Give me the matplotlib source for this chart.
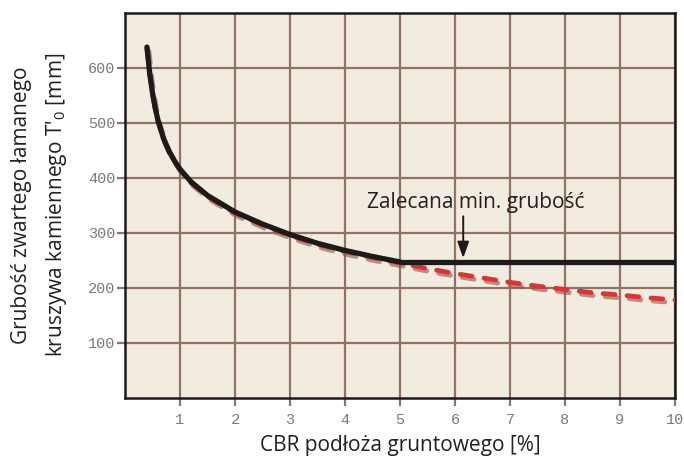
import matplotlib
matplotlib.use("Agg")
import matplotlib.pyplot as plt
import matplotlib.patheffects as pe

# ---- data ----
cbr_curve = [0.4, 0.45, 0.5, 0.55, 0.6, 0.7, 0.8, 0.9, 1.0, 1.2, 1.5, 2.0, 2.5, 3.0, 3.5, 4.0, 4.5, 5.0]
thk_curve = [638, 590, 555, 527, 505, 472, 449, 431, 416, 393, 368, 338, 316, 297, 281, 268, 257, 247]
cbr_flat = [5.0, 10.0]
thk_flat = [247, 247]
cbr_dash = cbr_curve + [5.5, 6.0, 6.5, 7.0, 7.5, 8.0, 8.5, 9.0, 9.5, 10.0]
thk_dash = [v - 2 for v in thk_curve] + [235, 226, 218, 210, 203, 197, 191, 187, 182, 178]
x_ticks = [1, 2, 3, 4, 5, 6, 7, 8, 9, 10]
y_ticks = [100, 200, 300, 400, 500, 600]
annot_text = "Zalecana min. grubość"
annot_xy = (6.15, 254)
annot_text_xy = (6.15, 330)
xlabel = "CBR podłoża gruntowego [%]"
ylabel_1 = "Grubość zwartego łamanego"
ylabel_2 = "kruszywa kamiennego T'$_{\\mathrm{0}}$ [mm]"

plt.rcParams['mathtext.fontset'] = 'custom'
plt.rcParams['mathtext.rm'] = 'Open Sans'
plt.rcParams['mathtext.it'] = 'Open Sans'
plt.rcParams['lines.scale_dashes'] = False

bg = '#f2ebdf'
grid_c = '#8f7367'
text_c = '#231f20'
tick_c = '#7a7a7a'

fig = plt.figure(figsize=(6.84, 4.61), dpi=100)
fig.patch.set_facecolor('white')
ax = fig.add_axes([0.1827, 0.1373, 0.9868 - 0.1827, 0.9718 - 0.1373])
ax.set_facecolor(bg)
ax.set_xlim(0, 10)
ax.set_ylim(0, 700)
ax.set_xticks(x_ticks)
ax.set_yticks(y_ticks)
ax.grid(True, color=grid_c, linewidth=1.6, zorder=0)
ax.set_axisbelow(True)
ax.tick_params(axis='both', color=grid_c, width=1.6, length=6, pad=1,
               labelcolor=tick_c)
for lab in ax.get_xticklabels() + ax.get_yticklabels():
    lab.set_fontfamily('Liberation Mono')
    lab.set_fontsize(11)
ax.tick_params(axis='x', pad=5)
for s in ax.spines.values():
    s.set_color('#1c1a1a')
    s.set_linewidth(1.8)

shadow = [pe.SimpleLineShadow(offset=(1.5, -2.2), shadow_color='#7a5a50', alpha=0.6), pe.Normal()]
ax.plot(cbr_dash, thk_dash, color='#e03232', linewidth=3.4, dashes=(8.6, 8.7),
        dash_capstyle='round', path_effects=shadow, zorder=3)
ax.plot(cbr_curve, thk_curve, color='#1e1a19', linewidth=3.8,
        solid_capstyle='round', solid_joinstyle='round', zorder=4)
ax.plot(cbr_flat, thk_flat, color='#1e1a19', linewidth=3.8,
        solid_capstyle='butt', zorder=4)

ax.annotate('', xy=annot_xy, xytext=annot_text_xy,
            arrowprops=dict(arrowstyle='-|>,head_length=0.7,head_width=0.25',
                            color='#1e1a19', lw=1.4,
                            mutation_scale=14, shrinkA=0, shrinkB=0), zorder=5)
ax.text(6.38, 355, annot_text, fontfamily='Open Sans', fontsize=15,
        color=text_c, ha='center', va='center', zorder=5)

fig.text(0.585, 0.034, xlabel, fontfamily='Open Sans', fontsize=15,
         color=text_c, ha='center', va='center')
fig.text(0.032, 0.555, ylabel_1, fontfamily='Open Sans', fontsize=15,
         color=text_c, ha='center', va='center', rotation=90)
fig.text(0.083, 0.555, ylabel_2, fontfamily='Open Sans', fontsize=15,
         color=text_c, ha='center', va='center', rotation=90)

fig.savefig('out.png', dpi=100, facecolor='white')
